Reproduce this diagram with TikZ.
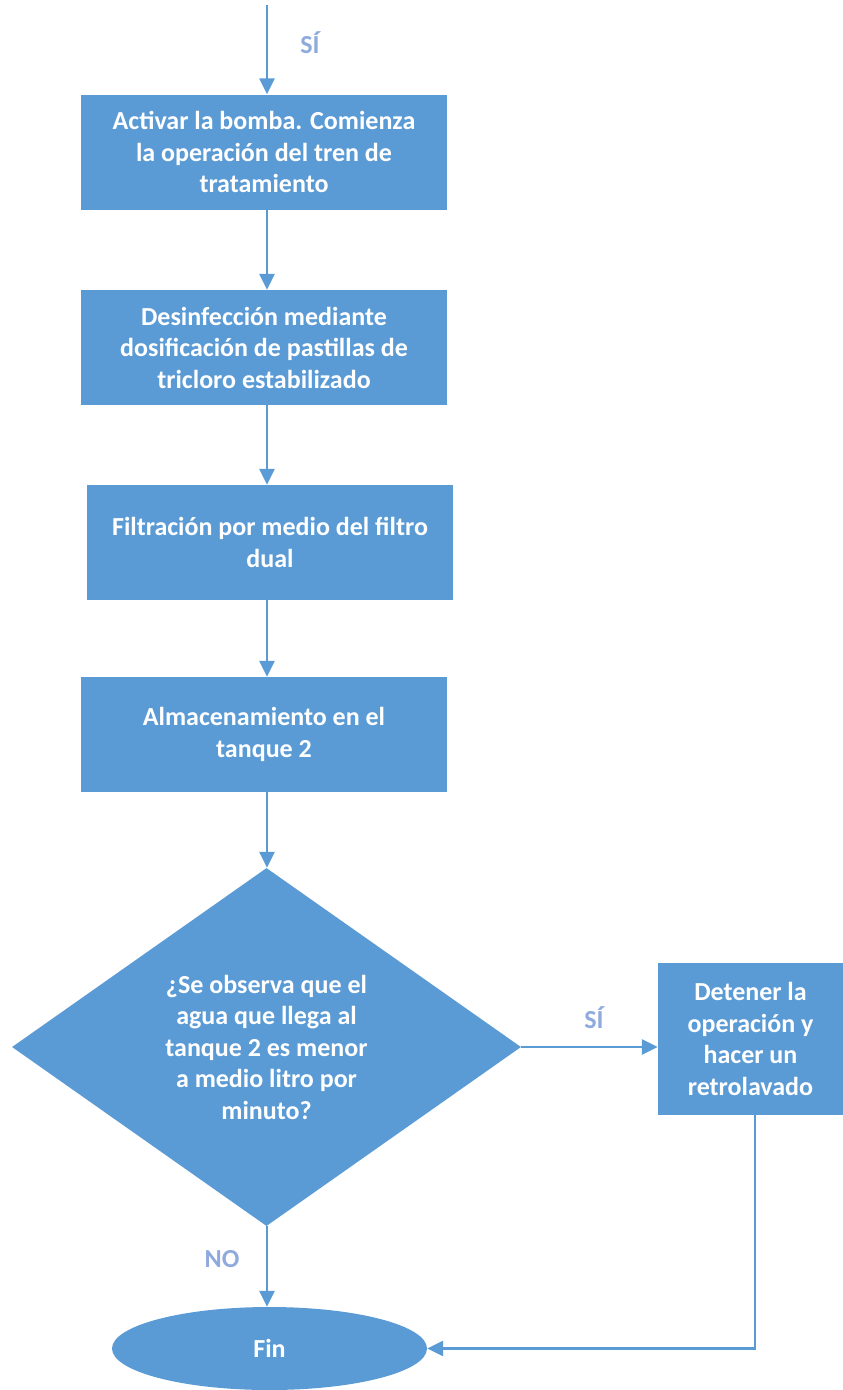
\documentclass[tikz,border=0pt]{standalone}
\usepackage{fontspec}
\setmainfont{Carlito}
\usetikzlibrary{shapes.geometric,arrows.meta}
\definecolor{boxblue}{HTML}{5B9BD5}
\definecolor{lblblue}{HTML}{8FAADC}
\begin{document}
\begin{tikzpicture}[x=1pt,y=1pt,
  proc/.style={rectangle,fill=boxblue,draw=none,minimum width=366pt,minimum height=115pt,
    align=center,text=white,font=\bfseries\fontsize{26}{31.5}\selectfont,inner sep=0pt},
  dec/.style={diamond,fill=boxblue,draw=none,minimum width=509pt,minimum height=358pt,
    align=center,text=white,font=\bfseries\fontsize{26}{31.5}\selectfont,inner sep=0pt},
  term/.style={ellipse,fill=boxblue,draw=none,minimum width=315pt,minimum height=83pt,
    text=white,font=\bfseries\fontsize{26}{31.5}\selectfont,inner sep=0pt},
  conn/.style={draw=boxblue,line width=2.6pt,-{Triangle[length=16pt,width=15pt]}},
  lbl/.style={text=lblblue,font=\bfseries\fontsize{26}{30}\selectfont}]
\useasboundingbox (0,0) rectangle (843,-1390);
\coordinate (start) at (267,-5);
\node[proc] (b1) at (264,-152) {Activar la bomba. Comienza\\la operación del tren de\\tratamiento};
\node[proc] (b2) at (264,-347.5) {Desinfección mediante\\dosificación de pastillas de\\tricloro estabilizado};
\node[proc] (b3) at (270,-542.5) {Filtración por medio del filtro\\dual};
\node[proc] (b4) at (264,-734.5) {Almacenamiento en el\\tanque 2};
\node[dec] (d) at (266.5,-1047) {¿Se observa que el\\agua que llega al\\tanque 2 es menor\\a medio litro por\\minuto?};
\node[proc,minimum width=185pt,minimum height=152pt] (det) at (750.5,-1039) {Detener la\\operación y\\hacer un\\retrolavado};
\node[term] (fin) at (269.5,-1348.5) {Fin};
\coordinate (corner) at (755,-1348.5);
\draw[conn] (start) -- (start |- b1.north);
\draw[conn] (b1.south -| start) -- (b2.north -| start);
\draw[conn] (b2.south -| start) -- (b3.north -| start);
\draw[conn] (b3.south -| start) -- (b4.north -| start);
\draw[conn] (b4.south -| start) -- (d.north -| start);
\draw[conn] (d.east) -- (det.west |- d.east);
\draw[conn] (d.south -| start) -- (fin.north -| start);
\draw[conn] (det.south -| corner) -- (corner) -- (fin.east);
\node[lbl] (l1) at (310,-43) {SÍ};
\node[lbl] (l2) at (594,-1018) {SÍ};
\node[lbl] (l3) at (222,-1259) {NO};
\end{tikzpicture}
\end{document}
